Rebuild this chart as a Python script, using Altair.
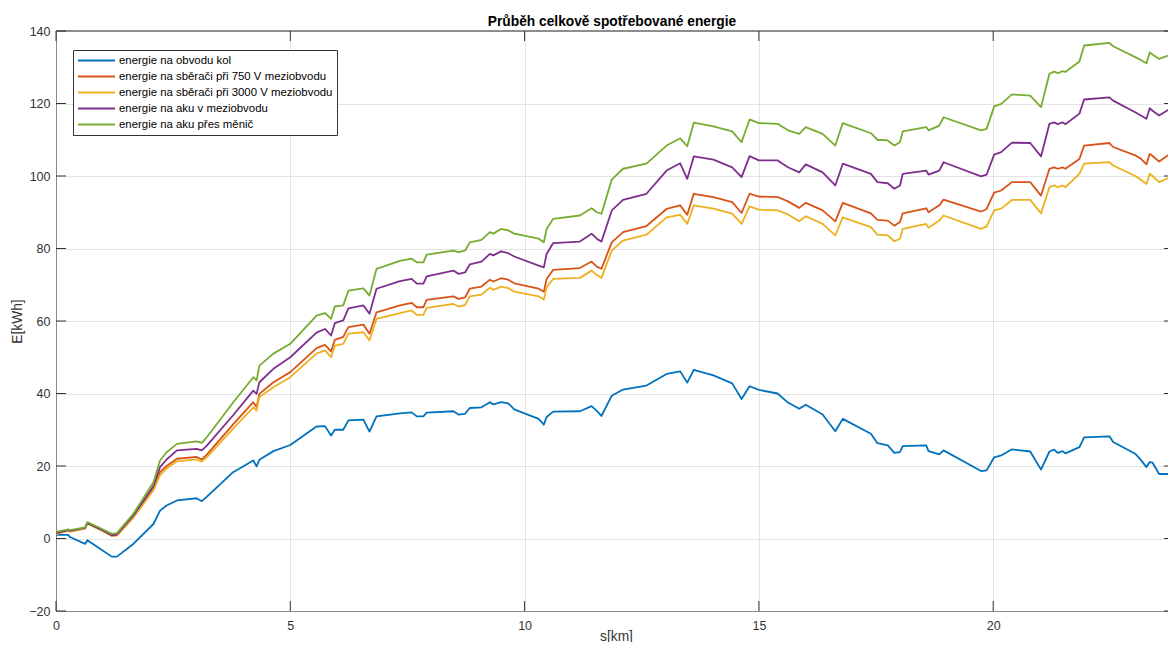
import altair as alt
import pandas as pd

# ---------------- data ----------------
s_km = [0.0, 0.26, 0.3, 0.62, 0.67, 0.94, 1.19, 1.3, 1.65, 2.08, 2.22, 2.36, 2.58, 3.0, 3.11, 3.21,
        3.78, 4.21, 4.28, 4.34, 4.64, 5.0, 5.56, 5.74, 5.87, 5.95, 6.13, 6.24, 6.56, 6.69, 6.84,
        7.34, 7.59, 7.7, 7.84, 7.91, 8.48, 8.59, 8.73, 8.83, 9.08, 9.26, 9.33, 9.5, 9.65, 9.78,
        10.3, 10.41, 10.47, 10.61, 11.18, 11.43, 11.54, 11.64, 11.86, 12.1, 12.6, 13.03, 13.32,
        13.47, 13.61, 14.03, 14.43, 14.63, 14.8, 15.0, 15.4, 15.62, 15.86, 16.0, 16.36, 16.63,
        16.79, 17.39, 17.53, 17.75, 17.89, 18.01, 18.07, 18.57, 18.62, 18.85, 18.94, 19.74,
        19.86, 20.02, 20.17, 20.4, 20.79, 21.02, 21.2, 21.3, 21.38, 21.48, 21.54, 21.84, 21.94,
        22.48, 22.56, 23.03, 23.15, 23.27, 23.34, 23.4, 23.54, 23.83, 23.9]

e_kola = [1.0, 1.0, 0.4, -1.5, -0.5, -2.8, -5.0, -5.0, -1.5, 4.0, 7.7, 9.1, 10.5, 11.1, 10.3, 11.4,
          18.3, 21.5, 19.9, 21.7, 24.1, 25.8, 30.9, 31.0, 28.4, 30.0, 30.0, 32.6, 32.8, 29.5, 33.7,
          34.5, 34.8, 33.7, 33.7, 34.7, 35.1, 34.2, 34.4, 36.0, 36.2, 37.6, 37.0, 37.6, 37.3, 35.6,
          33.0, 31.4, 33.5, 35.0, 35.1, 36.5, 35.2, 33.8, 39.4, 41.1, 42.2, 45.4, 46.1,
          43.0, 46.5, 45.0, 42.8, 38.5, 42.0, 41.0, 40.0, 37.5, 35.8, 36.9, 34.2, 29.6,
          33.0, 28.9, 26.3, 25.7, 23.6, 23.8, 25.5, 25.7, 24.1, 23.2, 24.3, 18.6,
          18.8, 22.4, 22.9, 24.6, 24.0, 19.0, 24.0, 24.5, 23.6, 24.1, 23.5, 25.2, 27.9,
          28.2, 26.6, 23.4, 21.7, 19.7, 21.1, 20.9, 17.8, 17.8, 19.9]

e_750 = [1.3, 2.2, 2.0, 2.8, 4.2, 2.5, 0.8, 0.9, 6.0, 14.0, 18.3, 20.0, 22.0, 22.5, 21.8, 23.0,
         31.5, 37.6, 36.2, 39.9, 43.1, 45.9, 52.5, 53.4, 51.6, 54.8, 55.6, 58.3, 59.0, 56.5, 62.4,
         64.3, 65.0, 63.8, 63.8, 65.8, 66.8, 66.1, 66.5, 68.9, 69.5, 71.4, 70.9, 71.8, 71.4, 70.4,
         68.9, 68.1, 71.6, 74.1, 74.6, 76.4, 75.0, 74.4, 81.7, 84.5, 86.2, 90.9, 91.9,
         89.3, 95.1, 94.2, 92.8, 89.8, 95.1, 94.3, 94.2, 93.0, 91.2, 92.6, 90.5, 87.5,
         92.6, 89.7, 87.9, 87.7, 86.3, 87.3, 89.7, 91.1, 90.0, 91.9, 93.5, 90.2,
         90.9, 95.4, 96.0, 98.3, 98.3, 94.6, 102.0, 102.4, 102.0, 102.4, 102.0, 104.7, 108.4,
         109.1, 108.0, 105.7, 104.8, 103.2, 106.1, 105.5, 104.0, 106.6, 110.3]

e_3000 = [1.2, 2.1, 1.9, 2.7, 4.1, 2.4, 0.7, 0.8, 5.7, 13.3, 17.5, 19.3, 21.3, 21.8, 21.2, 22.3,
          30.3, 36.2, 35.3, 39.0, 41.7, 44.5, 51.0, 51.9, 50.0, 53.2, 53.7, 56.5, 56.9, 54.6, 60.6,
          62.2, 62.9, 61.7, 61.7, 63.6, 64.7, 64.0, 64.4, 66.8, 67.3, 69.2, 68.6, 69.5, 69.1, 68.1,
          66.8, 65.9, 69.3, 71.6, 71.9, 73.9, 72.7, 71.9, 79.4, 82.2, 83.8, 88.6, 89.3,
          86.8, 91.9, 91.0, 89.6, 86.8, 91.6, 90.7, 90.5, 89.4, 87.5, 88.9, 86.8, 83.6,
          88.6, 85.9, 83.8, 83.6, 82.0, 82.7, 85.4, 86.8, 85.7, 87.7, 89.1, 85.4,
          86.1, 90.5, 91.0, 93.4, 93.4, 89.7, 96.9, 97.4, 96.9, 97.4, 96.9, 100.6, 103.4,
          103.8, 102.9, 100.0, 99.0, 97.8, 100.6, 100.0, 98.3, 100.0, 102.5]

e_aku_mezi = [1.5, 2.3, 2.1, 2.9, 4.3, 2.6, 0.9, 1.1, 6.3, 14.5, 19.7, 21.8, 24.3, 24.7, 24.3, 25.5,
              34.0, 40.8, 39.9, 43.1, 46.8, 50.0, 56.8, 57.8, 56.0, 59.4, 60.2, 63.5, 64.3, 62.0, 68.9,
              71.0, 71.6, 70.3, 70.3, 72.3, 73.9, 73.0, 73.4, 75.6, 76.4, 78.5, 78.1, 79.2, 78.7, 77.8,
              75.3, 74.8, 78.5, 81.5, 81.9, 84.1, 82.7, 81.9, 90.5, 93.4, 95.1, 101.5, 103.5,
              99.2, 105.4, 104.5, 102.4, 99.7, 105.5, 104.3, 104.3, 102.4, 101.0, 103.2, 101.0, 97.4,
              103.4, 100.6, 98.3, 98.0, 96.5, 97.4, 100.6, 101.5, 100.4, 101.5, 103.8, 99.9,
              100.4, 105.9, 106.6, 109.2, 109.1, 105.4, 114.4, 114.8, 114.3, 114.8, 114.3, 117.2, 121.1,
              121.7, 120.8, 117.6, 116.7, 115.8, 118.7, 118.0, 116.7, 119.0, 121.7]

e_aku_menic = [1.8, 2.5, 2.3, 3.1, 4.5, 2.9, 1.3, 1.5, 6.8, 15.5, 21.5, 23.8, 26.1, 26.8, 26.4, 27.8,
               37.5, 44.5, 43.6, 47.7, 51.0, 53.7, 61.5, 62.2, 60.6, 64.0, 64.3, 68.4, 69.0, 67.0, 74.4,
               76.6, 77.2, 76.2, 76.2, 78.3, 79.4, 79.0, 79.4, 81.7, 82.4, 84.5, 84.1, 85.4, 85.0, 84.1,
               82.7, 81.7, 85.4, 88.2, 89.1, 91.1, 90.0, 89.6, 99.0, 102.0, 103.4, 108.4, 110.4,
               108.2, 114.7, 113.7, 112.3, 109.3, 115.6, 114.6, 114.4, 112.6, 111.6, 113.5, 111.6, 108.4,
               114.6, 111.8, 110.0, 109.8, 108.4, 109.3, 112.3, 113.5, 112.6, 113.9, 116.2, 112.6,
               113.0, 119.2, 119.9, 122.5, 122.2, 119.0, 128.2, 128.8, 128.4, 128.9, 128.7, 131.6, 136.0,
               136.7, 135.8, 132.8, 132.0, 131.1, 134.1, 133.5, 132.3, 133.7, 137.9]

series_names = ["energie na obvodu kol",
                "energie na sběrači při 750 V meziobvodu",
                "energie na sběrači při 3000 V meziobvodu",
                "energie na aku v meziobvodu",
                "energie na aku přes měnič"]
series_colors = ["#0072BD", "#D95319", "#EDB120", "#7E2F8E", "#77AC30"]

x_ticks = [0, 5, 10, 15, 20]
y_ticks = [-20, 0, 20, 40, 60, 80, 100, 120, 140]

# ---------------- long table ----------------
rows = []
for name, vals in zip(series_names, [e_kola, e_750, e_3000, e_aku_mezi, e_aku_menic]):
    for s, v in zip(s_km, vals):
        rows.append({"s": s, "E": v, "serie": name})
df = pd.DataFrame(rows)

W, H = 1112, 580
FONT = "Liberation Sans"
AX = "#333333"
FRAME = "#8a8a8a"
GRID = "#e4e4e4"

xscale = alt.Scale(domain=[0, 23.73], nice=False, zero=False)
yscale = alt.Scale(domain=[-20, 140], nice=False, zero=False)

x_axis = alt.Axis(title="s[km]", values=x_ticks, grid=True, gridColor=GRID,
                  ticks=False, tickSize=0, domainColor=FRAME, labelFont=FONT,
                  labelFontSize=12.5, labelColor=AX, labelPadding=8, labelFlush=False,
                  titleFont=FONT, titleFontSize=13.75, titleFontWeight="normal",
                  titleColor=AX, titleBaseline="alphabetic", titleY=29, titleX=W / 2 + 4)
y_axis = alt.Axis(title="E[kWh]", values=y_ticks, grid=True, gridColor=GRID,
                  ticks=False, tickSize=0, domainColor=FRAME, labelFont=FONT,
                  labelFontSize=12.5, labelColor=AX, labelPadding=6, labelFlush=False,
                  titleFont=FONT, titleFontSize=13.75, titleFontWeight="normal",
                  titleColor=AX, titleX=-38.5, titleY=H / 2, titleAngle=270,
                  titleBaseline="middle", titleAlign="center")

lines = alt.Chart(df).mark_line(strokeWidth=1.8, clip=True, strokeJoin="round").encode(
    x=alt.X("s:Q", scale=xscale, axis=x_axis),
    y=alt.Y("E:Q", scale=yscale, axis=y_axis),
    color=alt.Color("serie:N", sort=series_names,
                    scale=alt.Scale(domain=series_names, range=series_colors),
                    legend=alt.Legend(title=None, orient="none", legendX=17, legendY=19,
                                      symbolType="stroke", symbolSize=1369, symbolStrokeWidth=2,
                                      symbolOpacity=1, labelFont=FONT, labelFontSize=11.4,
                                      labelColor="#000000", labelOffset=3, labelLimit=500,
                                      padding=4, rowPadding=3, clipHeight=13, strokeColor=AX,
                                      fillColor="#ffffff")),
)

xt = pd.DataFrame({"s": x_ticks})
yt = pd.DataFrame({"E": y_ticks})

bottom_ticks = alt.Chart(xt).mark_rule(color=AX, strokeWidth=1).encode(
    x=alt.X("s:Q", scale=xscale, axis=x_axis), y=alt.value(H), y2=alt.value(H - 10))
top_ticks = alt.Chart(xt).mark_rule(color=AX, strokeWidth=1).encode(
    x=alt.X("s:Q", scale=xscale, axis=x_axis), y=alt.value(0), y2=alt.value(10))
left_ticks = alt.Chart(yt).mark_rule(color=AX, strokeWidth=1).encode(
    y=alt.Y("E:Q", scale=yscale, axis=y_axis), x=alt.value(0), x2=alt.value(10))
right_ticks = alt.Chart(yt).mark_rule(color=AX, strokeWidth=1).encode(
    y=alt.Y("E:Q", scale=yscale, axis=y_axis), x=alt.value(W - 4), x2=alt.value(W))
top_border = alt.Chart(xt).mark_rule(color=FRAME, strokeWidth=1).encode(
    x=alt.value(0), x2=alt.value(W), y=alt.value(0))

chart = alt.layer(lines, top_border, bottom_ticks, top_ticks, left_ticks, right_ticks).properties(
    width=W, height=H,
    autosize=alt.AutoSizeParams(type="none"),
    padding={"left": 48, "top": 23, "right": 0, "bottom": 31},
    title=alt.Title("Průběh celkově spotřebované energie", font=FONT, fontSize=13.75,
                    fontWeight="bold", color="#000000", anchor="middle", frame="group",
                    offset=6, baseline="alphabetic", dy=21),
).configure_view(stroke="transparent").configure(background="white")

chart.save("out.html", embed_options={"renderer": "svg", "actions": False})
